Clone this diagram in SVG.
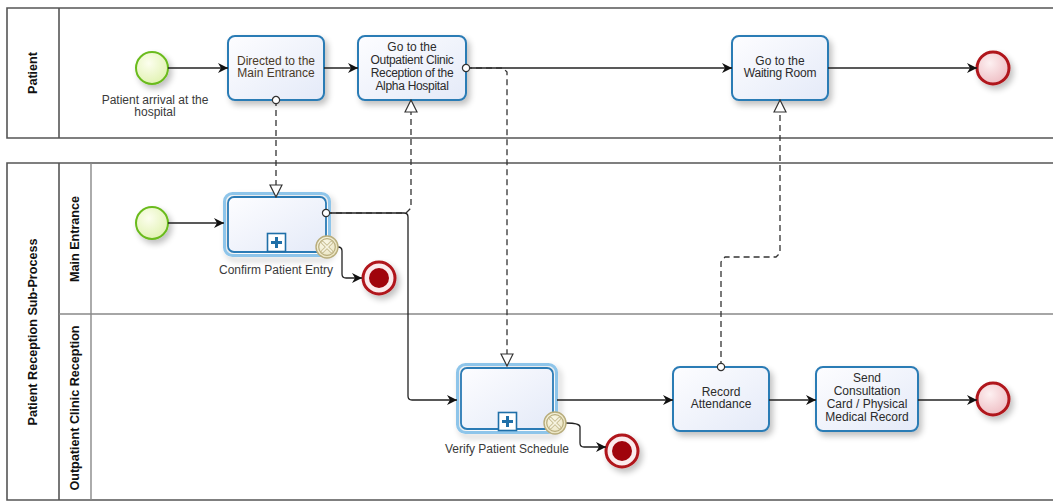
<svg xmlns="http://www.w3.org/2000/svg" width="1053" height="502" viewBox="0 0 1053 502">
  <defs>
    <linearGradient id="taskFill" x1="0" y1="0" x2="1" y2="1">
      <stop offset="0" stop-color="#fdfdff"/>
      <stop offset="1" stop-color="#e4eaf8"/>
    </linearGradient>
    <radialGradient id="startFill" cx="0.4" cy="0.35" r="0.7">
      <stop offset="0" stop-color="#fcfeee"/>
      <stop offset="1" stop-color="#e0f2b0"/>
    </radialGradient>
    <radialGradient id="endFill" cx="0.4" cy="0.35" r="0.7">
      <stop offset="0" stop-color="#fdf0f1"/>
      <stop offset="1" stop-color="#eebcc2"/>
    </radialGradient>
    <radialGradient id="cancelFill" cx="0.4" cy="0.35" r="0.7">
      <stop offset="0" stop-color="#fbf9ea"/>
      <stop offset="1" stop-color="#e9e2bd"/>
    </radialGradient>
    <filter id="shadow" x="-20%" y="-20%" width="150%" height="160%">
      <feGaussianBlur in="SourceAlpha" stdDeviation="3"/>
      <feOffset dx="3" dy="4" result="b"/>
      <feComponentTransfer><feFuncA type="linear" slope="0.25"/></feComponentTransfer>
      <feMerge><feMergeNode/><feMergeNode in="SourceGraphic"/></feMerge>
    </filter>
    <marker id="seqArrow" viewBox="0 0 10 10" refX="10" refY="5" markerWidth="10" markerHeight="10" markerUnits="userSpaceOnUse" orient="auto">
      <path d="M0,0 L10,5 L0,10 L3,5 z" fill="#111"/>
    </marker>
    <marker id="msgArrow" viewBox="0 0 14 14" refX="13" refY="7" markerWidth="14" markerHeight="14" markerUnits="userSpaceOnUse" orient="auto">
      <path d="M1,1 L13,7 L1,13 z" fill="#fff" stroke="#333" stroke-width="1.2"/>
    </marker>
    <marker id="msgStart" viewBox="0 0 10 10" refX="5" refY="5" markerWidth="10" markerHeight="10" markerUnits="userSpaceOnUse" orient="auto">
      <circle cx="5" cy="5" r="3.6" fill="#fff" stroke="#333" stroke-width="1.2"/>
    </marker>
  </defs>
  <style>
    .pool { fill: none; stroke: #555; stroke-width: 1.6; }
    .lane { fill: none; stroke: #888; stroke-width: 1.4; }
    .poolLabel { font-family: "Liberation Sans", Arial, sans-serif; font-size: 12.6px; font-weight: bold; fill: #111; text-anchor: middle; }
    .task { fill: url(#taskFill); stroke: #2b7bb5; stroke-width: 2; filter: url(#shadow); }
    .subOuter { fill: none; stroke: #8ec5ea; stroke-width: 3; filter: url(#shadow); }
    .subInner { fill: url(#taskFill); stroke: #2b7bb5; stroke-width: 1.8; }
    .txt { font-family: "Liberation Sans", Arial, sans-serif; font-size: 12px; fill: #2b2b2b; text-anchor: middle; }
    .lbl { font-family: "Liberation Sans", Arial, sans-serif; font-size: 12px; fill: #3a3a3a; text-anchor: middle; }
    .start { fill: url(#startFill); stroke: #6abb1e; stroke-width: 2; filter: url(#shadow); }
    .end { fill: url(#endFill); stroke: #b0141a; stroke-width: 3; filter: url(#shadow); }
    .seq { fill: none; stroke: #222; stroke-width: 1.3; marker-end: url(#seqArrow); }
    .msg { fill: none; stroke: #333; stroke-width: 1.3; stroke-dasharray: 6 4; }
  </style>

  <!-- Pools and lanes -->
  <g id="pool-patient">
    <path class="pool" d="M1060,8 H7 V138 H1060"/>
    <line class="pool" x1="59" y1="8" x2="59" y2="138"/>
    <text class="poolLabel" transform="translate(37,73) rotate(-90)">Patient</text>
  </g>
  <g id="pool-reception">
    <path class="pool" d="M1060,163 H7 V500 H1060"/>
    <line class="pool" x1="59" y1="163" x2="59" y2="500"/>
    <line class="lane" x1="91" y1="163" x2="91" y2="500"/>
    <line class="lane" x1="59" y1="314" x2="1060" y2="314"/>
    <text class="poolLabel" transform="translate(37,332) rotate(-90)">Patient Reception Sub-Process</text>
    <text class="poolLabel" transform="translate(79,239) rotate(-90)">Main Entrance</text>
    <text class="poolLabel" transform="translate(79,408) rotate(-90)">Outpatient Clinic Reception</text>
  </g>

  <!-- Patient lane -->
  <g id="start-patient">
    <circle class="start" cx="152" cy="68" r="16"/>
    <text class="lbl" x="155" y="104">Patient arrival at the</text>
    <text class="lbl" x="155" y="116">hospital</text>
  </g>
  <g id="task-directed">
    <rect class="task" x="228" y="36" width="96" height="64" rx="7"/>
    <text class="txt" x="276" y="65" style="fill:#4a3a28">Directed to the</text>
    <text class="txt" x="276" y="77" style="fill:#4a3a28">Main Entrance</text>
  </g>
  <g id="task-goto-reception">
    <rect class="task" x="358" y="36" width="108" height="64" rx="7"/>
    <text class="txt" x="412" y="51">Go to the</text>
    <text class="txt" x="412" y="64" letter-spacing="-0.3">Outpatient Clinic</text>
    <text class="txt" x="412" y="77" letter-spacing="-0.3">Reception of the</text>
    <text class="txt" x="412" y="90" letter-spacing="-0.3">Alpha Hospital</text>
  </g>
  <g id="task-waiting-room">
    <rect class="task" x="732" y="36" width="96" height="64" rx="7"/>
    <text class="txt" x="780" y="65">Go to the</text>
    <text class="txt" x="780" y="77" letter-spacing="-0.2">Waiting Room</text>
  </g>
  <g id="end-patient">
    <circle class="end" cx="993" cy="68" r="16"/>
  </g>

  <!-- Main Entrance lane -->
  <g id="start-main-entrance">
    <circle class="start" cx="152" cy="223" r="16"/>
  </g>
  <g id="sub-confirm-entry">
    <rect class="subOuter" x="224.5" y="193.5" width="105" height="62" rx="8"/>
    <rect class="subInner" x="228" y="197" width="98" height="55" rx="6"/>
    <rect x="267.5" y="233.5" width="18" height="18" fill="#fff" stroke="#1f6fa8" stroke-width="1.6"/>
    <path d="M276.5,237 V248 M271,242.5 H282" stroke="#1f6fa8" stroke-width="3"/>
    <text class="lbl" x="276" y="274">Confirm Patient Entry</text>
  </g>
  <g id="end-confirm-entry">
    <circle class="end" cx="379" cy="278" r="16" style="fill:#fbeaec"/>
    <circle cx="379" cy="278" r="10" fill="#a0040c"/>
  </g>

  <!-- Outpatient Clinic Reception lane -->
  <g id="sub-verify-schedule">
    <rect class="subOuter" x="457.5" y="364.5" width="99" height="68" rx="8"/>
    <rect class="subInner" x="461" y="368" width="92" height="61" rx="6"/>
    <rect x="498.5" y="412.5" width="18" height="18" fill="#fff" stroke="#1f6fa8" stroke-width="1.6"/>
    <path d="M507.5,416 V427 M502,421.5 H513" stroke="#1f6fa8" stroke-width="3"/>
    <text class="lbl" x="507" y="453">Verify Patient Schedule</text>
  </g>
  <g id="end-verify-schedule">
    <circle class="end" cx="622" cy="451" r="16" style="fill:#fbeaec"/>
    <circle cx="622" cy="451" r="10" fill="#a0040c"/>
  </g>
  <g id="task-record-attendance">
    <rect class="task" x="673" y="367" width="96" height="64" rx="7"/>
    <text class="txt" x="721" y="396">Record</text>
    <text class="txt" x="721" y="408">Attendance</text>
  </g>
  <g id="task-send-card">
    <rect class="task" x="816" y="367" width="102" height="64" rx="7"/>
    <text class="txt" x="867" y="382">Send</text>
    <text class="txt" x="867" y="395">Consultation</text>
    <text class="txt" x="867" y="408">Card / Physical</text>
    <text class="txt" x="867" y="421">Medical Record</text>
  </g>
  <g id="end-reception">
    <circle class="end" cx="993" cy="399" r="16"/>
  </g>

  <!-- Connectors -->
  <g id="connectors">
    <!-- sequence flows -->
    <line class="seq" x1="168" y1="68" x2="228" y2="68"/>
    <line class="seq" x1="324" y1="68" x2="358" y2="68"/>
    <line class="seq" x1="466" y1="68" x2="732" y2="68"/>
    <line class="seq" x1="828" y1="68" x2="977" y2="68"/>
    <line class="seq" x1="168" y1="223" x2="224" y2="223"/>
    <path class="seq" d="M326,213 H404 Q408,213 408,217 V396 Q408,400 412,400 H457"/>
    <path class="seq" d="M338,247 Q342,247 342,251 V274 Q342,278 346,278 H362"/>
    <line class="seq" x1="557" y1="400" x2="673" y2="400"/>
    <path class="seq" d="M566,423 Q580,423 580,427 V443 Q580,447 584,447 H606"/>
    <line class="seq" x1="769" y1="400" x2="816" y2="400"/>
    <line class="seq" x1="918" y1="400" x2="977" y2="400"/>
    <!-- message flows -->
    <path class="msg" d="M276,100 V197" marker-start="url(#msgStart)" marker-end="url(#msgArrow)"/>
    <path class="msg" d="M326,213 H406 L411,208 V100" marker-start="url(#msgStart)" marker-end="url(#msgArrow)"/>
    <path class="msg" d="M466,68 H503 L507,72 V366" marker-start="url(#msgStart)" marker-end="url(#msgArrow)"/>
    <path class="msg" d="M721,367 V262 L725,257 H776 L780,253 V100" marker-start="url(#msgStart)" marker-end="url(#msgArrow)"/>
  </g>

  <!-- Boundary cancel events sit on top of their sub-processes -->
  <g id="cancel-confirm-entry">
    <circle cx="327" cy="247" r="11" fill="url(#cancelFill)" stroke="#b8ad7c" stroke-width="1.4"/>
    <circle cx="327" cy="247" r="8.3" fill="none" stroke="#b8ad7c" stroke-width="1.2"/>
    <path d="M322.5,242.5 L331.5,251.5 M331.5,242.5 L322.5,251.5" stroke="#c9bf95" stroke-width="3.4" stroke-linecap="round"/>
    <path d="M322.5,242.5 L331.5,251.5 M331.5,242.5 L322.5,251.5" stroke="#f7f4e2" stroke-width="1.6" stroke-linecap="round"/>
  </g>
  <g id="cancel-verify-schedule">
    <circle cx="555" cy="423" r="11" fill="url(#cancelFill)" stroke="#b8ad7c" stroke-width="1.4"/>
    <circle cx="555" cy="423" r="8.3" fill="none" stroke="#b8ad7c" stroke-width="1.2"/>
    <path d="M550.5,418.5 L559.5,427.5 M559.5,418.5 L550.5,427.5" stroke="#c9bf95" stroke-width="3.4" stroke-linecap="round"/>
    <path d="M550.5,418.5 L559.5,427.5 M559.5,418.5 L550.5,427.5" stroke="#f7f4e2" stroke-width="1.6" stroke-linecap="round"/>
  </g>
</svg>
